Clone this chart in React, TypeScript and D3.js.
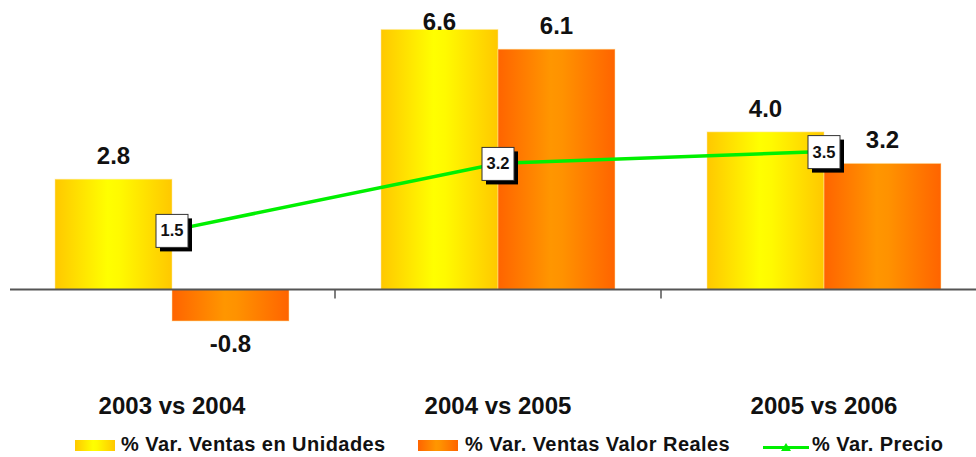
import React from "react";
import * as d3 from "d3";

// Chart data
const categories = ["2003 vs 2004", "2004 vs 2005", "2005 vs 2006"];
const seriesNames = ["% Var. Ventas en Unidades", "% Var. Ventas Valor Reales"];
const ventasUnidades = [2.8, 6.6, 4.0];
const ventasValorReales = [-0.8, 6.1, 3.2];
const precioName = "% Var. Precio";
const precio = [1.5, 3.2, 3.5];

const W = 976;
const H = 457;
const FONT = "'Liberation Sans', Arial, Helvetica, sans-serif";

const barSeries = [
  { name: seriesNames[0], values: ventasUnidades, grad: "gradYellow" },
  { name: seriesNames[1], values: ventasValorReales, grad: "gradOrange" },
];

// one decimal, plain hyphen for negatives
const fmt = (v: number) => d3.format(".1f")(v).replace("\u2212", "-");

export default function App() {
  const x0 = d3.scaleBand<string>().domain(categories).range([9, 987]).padding(0);
  const x1 = d3
    .scaleBand<string>()
    .domain(seriesNames)
    .range([46, x0.bandwidth() - 46])
    .padding(0);
  const y = d3.scaleLinear().domain([-1, 7]).range([328.9, 13.7]);
  const y0 = y(0);

  const linePts: [number, number][] = precio.map((v, i) => [
    (x0(categories[i]) as number) + x0.bandwidth() / 2,
    y(v),
  ]);
  const line = d3.line();

  const tickXs = categories.slice(1).map((c) => x0(c) as number);

  const legendItems = [
    { type: "bar", grad: "gradYellow", label: seriesNames[0], sx: 75, tx: 121 },
    { type: "bar", grad: "gradOrange", label: seriesNames[1], sx: 418, tx: 465 },
    { type: "line", label: precioName, sx: 763, tx: 812 },
  ];

  return (
    <svg
      width={W}
      height={H}
      style={{ position: "absolute", left: 0, top: 0, background: "#fff" }}
      fontFamily={FONT}
    >
      <defs>
        <linearGradient id="gradYellow" x1="0" x2="1" y1="0" y2="0">
          <stop offset="0" stopColor="#FFC800" />
          <stop offset="0.45" stopColor="#FFFF00" />
          <stop offset="0.55" stopColor="#FFFA00" />
          <stop offset="1" stopColor="#FFC800" />
        </linearGradient>
        <linearGradient id="gradOrange" x1="0" x2="1" y1="0" y2="0">
          <stop offset="0" stopColor="#FF6400" />
          <stop offset="0.45" stopColor="#FF9600" />
          <stop offset="0.55" stopColor="#FF9200" />
          <stop offset="1" stopColor="#FF6400" />
        </linearGradient>
      </defs>

      {/* bars */}
      {barSeries.map((s) =>
        s.values.map((v, i) => {
          const bx = (x0(categories[i]) as number) + (x1(s.name) as number);
          const top = Math.min(y(v), y0);
          const h = Math.abs(y(v) - y0);
          return (
            <rect
              key={s.name + i}
              x={bx}
              y={top}
              width={x1.bandwidth()}
              height={h}
              fill={`url(#${s.grad})`}
              stroke="#FFE9A8"
              strokeOpacity={0.5}
              strokeWidth={1}
            />
          );
        })
      )}

      {/* category axis */}
      <line x1={10} x2={W} y1={y0} y2={y0} stroke="#555" strokeWidth={2} />
      {tickXs.map((tx, i) => (
        <line key={i} x1={tx} x2={tx} y1={y0} y2={y0 + 9} stroke="#555" strokeWidth={1.5} />
      ))}

      {/* bar value labels */}
      {barSeries.map((s) =>
        s.values.map((v, i) => {
          const cx =
            (x0(categories[i]) as number) + (x1(s.name) as number) + x1.bandwidth() / 2;
          const ly = v >= 0 ? Math.max(y(v) - 15, 30) : y(v) + 31;
          return (
            <text
              key={"l" + s.name + i}
              x={cx}
              y={ly}
              textAnchor="middle"
              fontSize={24}
              fontWeight="bold"
              fill="#111"
            >
              {fmt(v)}
            </text>
          );
        })
      )}

      {/* price line */}
      <path d={line(linePts) || ""} fill="none" stroke="#00F000" strokeWidth={3.5} />
      {linePts.map(([px, py], i) => (
        <g key={"p" + i}>
          <rect x={px - 16 + 4} y={py - 16 + 4} width={32} height={33} fill="#000" />
          <rect
            x={px - 16}
            y={py - 16}
            width={32}
            height={33}
            fill="#fff"
            stroke="#333"
            strokeWidth={1}
          />
          <text
            x={px}
            y={py + 6}
            textAnchor="middle"
            fontSize={16.5}
            fontWeight="bold"
            fill="#111"
          >
            {fmt(precio[i])}
          </text>
        </g>
      ))}

      {/* category labels */}
      {categories.map((c) => (
        <text
          key={c}
          x={(x0(c) as number) + x0.bandwidth() / 2}
          y={414}
          textAnchor="middle"
          fontSize={24}
          fontWeight="bold"
          fill="#111"
        >
          {c}
        </text>
      ))}

      {/* legend */}
      {legendItems.map((it) => (
        <g key={it.label}>
          {it.type === "bar" ? (
            <rect x={it.sx} y={440} width={40} height={11} fill={`url(#${it.grad})`} />
          ) : (
            <g>
              <line x1={it.sx} x2={it.sx + 46} y1={447.5} y2={447.5} stroke="#00F000" strokeWidth={3} />
              <path
                d={`M${it.sx + 23 - 5},${451} L${it.sx + 23 + 5},${451} L${it.sx + 23},${443} Z`}
                fill="#00F000"
              />
            </g>
          )}
          <text
            x={it.tx}
            y={451}
            fontSize={20}
            fontWeight="bold"
            letterSpacing={0.45}
            fill="#111"
          >
            {it.label}
          </text>
        </g>
      ))}
    </svg>
  );
}
